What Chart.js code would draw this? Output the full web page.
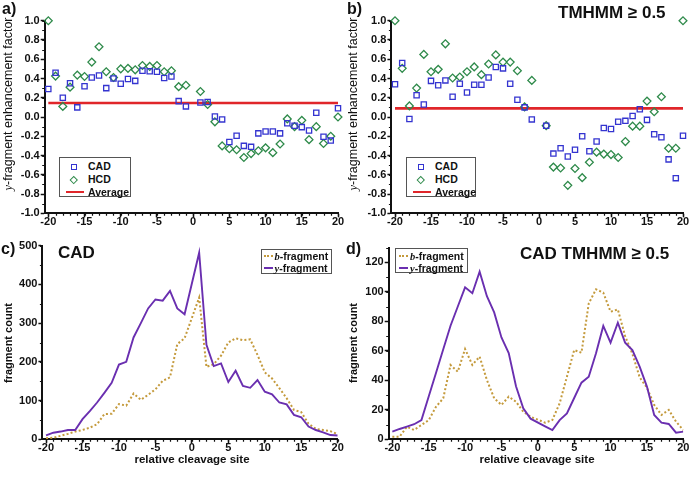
<!DOCTYPE html>
<html>
<head>
<meta charset="utf-8">
<script src="https://cdn.jsdelivr.net/npm/chart.js@4.4.1/dist/chart.umd.min.js"></script>
<style>
  body { margin: 0; background: #fff; width: 691px; height: 477px; position: relative; overflow: hidden;
         font-family: "Liberation Sans", Arial, sans-serif; color: #111; }
  .panel { position: absolute; }
  .panel canvas { display: block; }
  .lbl { position: absolute; font-weight: bold; line-height: 1; white-space: nowrap; }
  .ytitle { position: absolute; transform: translate(-50%, -50%) rotate(-90deg); white-space: nowrap; line-height: 1; }
  .xtitle { position: absolute; transform: translate(-50%, -50%); white-space: nowrap; font-weight: bold; font-size: 11.5px; line-height: 1; }
  .serif { font-family: "Liberation Serif", "DejaVu Serif", serif; font-style: italic; }
  .legend { position: absolute; border: 1px solid #555; background: #fff; box-sizing: border-box; }
  .legend .txt { position: absolute; font-weight: bold; font-size: 10.5px; line-height: 11px; white-space: nowrap; }
  .sym { position: absolute; box-sizing: border-box; }
</style>
</head>
<body>

<div class="panel" style="left:0;top:0"><canvas id="chartA" width="345" height="235"></canvas></div>
<div class="panel" style="left:345px;top:0"><canvas id="chartB" width="346" height="235"></canvas></div>
<div class="panel" style="left:0;top:235px"><canvas id="chartC" width="345" height="242"></canvas></div>
<div class="panel" style="left:345px;top:235px"><canvas id="chartD" width="346" height="242"></canvas></div>

<!-- panel letters and titles -->
<div class="lbl" style="left:2px;top:1px;font-size:16px">a)</div>
<div class="lbl" style="left:347px;top:1px;font-size:16px">b)</div>
<div class="lbl" style="left:1px;top:241px;font-size:16px">c)</div>
<div class="lbl" style="left:346px;top:241px;font-size:16px">d)</div>
<div class="lbl" style="left:558px;top:4px;font-size:17px">TMHMM ≥ 0.5</div>
<div class="lbl" style="left:58px;top:244px;font-size:17px">CAD</div>
<div class="lbl" style="left:520px;top:245px;font-size:17px">CAD TMHMM ≥ 0.5</div>

<!-- axis titles -->
<div class="ytitle" style="left:7.5px;top:103.5px;font-size:12.5px"><span class="serif">y</span>-fragment enhancement factor</div>
<div class="ytitle" style="left:352.5px;top:103.5px;font-size:12.5px"><span class="serif">y</span>-fragment enhancement factor</div>
<div class="ytitle" style="left:7.5px;top:343px;font-size:11px;font-weight:bold">fragment count</div>
<div class="ytitle" style="left:352.5px;top:342.5px;font-size:11px;font-weight:bold">fragment count</div>
<div class="xtitle" style="left:192px;top:460px">relative cleavage site</div>
<div class="xtitle" style="left:537px;top:460px">relative cleavage site</div>

<!-- legends a and b -->
<div class="legend" style="left:59px;top:157px;width:72px;height:40px">
  <span class="sym" style="left:10.5px;top:5.5px;width:6.5px;height:6.5px;border:1.3px solid #3434d0"></span>
  <span class="txt" style="left:28px;top:3px">CAD</span>
  <span class="sym" style="left:11px;top:18.6px;width:5.5px;height:5.5px;border:1.3px solid #2e8a4a;transform:rotate(45deg)"></span>
  <span class="txt" style="left:28px;top:15.8px">HCD</span>
  <span class="sym" style="left:6px;top:32.8px;width:18px;height:2.5px;background:#e0262a"></span>
  <span class="txt" style="left:28px;top:28.5px">Average</span>
</div>
<div class="legend" style="left:406px;top:157px;width:70px;height:40px">
  <span class="sym" style="left:10.5px;top:5.5px;width:6.5px;height:6.5px;border:1.3px solid #3434d0"></span>
  <span class="txt" style="left:28px;top:3px">CAD</span>
  <span class="sym" style="left:11px;top:18.6px;width:5.5px;height:5.5px;border:1.3px solid #2e8a4a;transform:rotate(45deg)"></span>
  <span class="txt" style="left:28px;top:15.8px">HCD</span>
  <span class="sym" style="left:6px;top:32.8px;width:18px;height:2.5px;background:#e0262a"></span>
  <span class="txt" style="left:28px;top:28.5px">Average</span>
</div>

<!-- legends c and d -->
<div class="legend" style="left:261px;top:249px;width:71px;height:25px">
  <span class="sym" style="left:2px;top:5px;width:9px;border-top:2px dotted #c49a3c"></span>
  <span class="txt" style="left:12.5px;top:0.5px"><span class="serif">b</span>-fragment</span>
  <span class="sym" style="left:2px;top:17.3px;width:9px;height:2px;background:#6a2fb0"></span>
  <span class="txt" style="left:12.5px;top:12.8px"><span class="serif">y</span>-fragment</span>
</div>
<div class="legend" style="left:395px;top:248px;width:73px;height:25px">
  <span class="sym" style="left:3px;top:6px;width:9px;border-top:2px dotted #c49a3c"></span>
  <span class="txt" style="left:14px;top:1.5px"><span class="serif">b</span>-fragment</span>
  <span class="sym" style="left:3px;top:18.3px;width:9px;height:2px;background:#6a2fb0"></span>
  <span class="txt" style="left:14px;top:13.8px"><span class="serif">y</span>-fragment</span>
</div>

<script>
// relative cleavage sites (no site 0)
const sites = [-20, -19, -18, -17, -16, -15, -14, -13, -12, -11, -10, -9, -8, -7, -6, -5, -4, -3, -2, -1,
               1, 2, 3, 4, 5, 6, 7, 8, 9, 10, 11, 12, 13, 14, 15, 16, 17, 18, 19, 20];

// a) all peptides
const cadA = [0.29, 0.46, 0.20, 0.35, 0.10, 0.32, 0.41, 0.43, 0.30, 0.40, 0.345, 0.395, 0.375, 0.48, 0.475, 0.47, 0.405, 0.42, 0.165, 0.11,
              0.15, 0.155, 0.005, -0.025, -0.26, -0.195, -0.30, -0.31, -0.17, -0.15, -0.15, -0.17, -0.065, -0.09, -0.105, -0.14, 0.045, -0.205, -0.245, 0.09];
const hcdA = [1.0, 0.425, 0.11, 0.31, 0.435, 0.42, 0.57, 0.73, 0.47, 0.41, 0.50, 0.505, 0.49, 0.535, 0.525, 0.535, 0.47, 0.48, 0.315, 0.33,
              0.265, 0.13, -0.05, -0.30, -0.33, -0.34, -0.42, -0.38, -0.35, -0.32, -0.37, -0.28, -0.02, -0.10, -0.035, -0.235, -0.10, -0.275, -0.20, 0.0];
const avgA = 0.145;

// b) TMHMM >= 0.5
const cadB = [0.34, 0.56, -0.02, 0.225, 0.13, 0.375, 0.33, 0.38, 0.21, 0.345, 0.255, 0.335, 0.335, 0.41, 0.52, 0.505, 0.345, 0.18, 0.10, -0.025,
              -0.09, -0.38, -0.325, -0.41, -0.34, -0.20, -0.355, -0.255, -0.115, -0.125, -0.05, -0.04, 0.01, 0.08, -0.03, -0.18, -0.21, -0.44, -0.635, -0.195];
const hcdB = [1.0, 0.505, 0.115, 0.30, 0.65, 0.47, 0.495, 0.76, 0.405, 0.415, 0.47, 0.52, 0.44, 0.55, 0.645, 0.57, 0.57, 0.48, 0.105, 0.38,
              -0.09, -0.52, -0.53, -0.71, -0.535, -0.63, -0.47, -0.365, -0.385, -0.39, -0.42, -0.255, -0.095, -0.095, 0.165, 0.055, 0.21, -0.325, -0.325, 1.0];
const avgB = 0.09;

// c) CAD fragment counts
const bFragC = [3, 4, 9, 14, 20, 24, 30, 39, 65, 66, 91, 87, 118, 102, 115, 129, 151, 160, 246, 261,
                366, 187, 194, 216, 250, 261, 256, 258, 218, 173, 157, 132, 106, 76, 70, 40, 27, 24, 21, 13];
const yFragC = [10, 17, 20, 24, 24, 52, 73, 95, 120, 146, 193, 200, 263, 300, 338, 361, 358, 383, 338, 323,
                482, 244, 189, 196, 148, 177, 138, 133, 153, 123, 116, 95, 90, 63, 57, 33, 24, 18, 11, 10];

// d) CAD TMHMM >= 0.5 fragment counts
const bFragD = [1.8, 1.8, 8.5, 6.3, 9.7, 13, 22, 27.8, 50.4, 45.8, 61.2, 50.4, 56, 40.2, 27.8, 23.3, 28.9, 25.5, 18.7, 15.3,
                11.3, 13.1, 24.4, 42.4, 60.5, 58.7, 92, 101.7, 99.4, 86.5, 88, 70, 58, 42, 35, 23.3, 16.5, 19.9, 12, 6.3];
const yFragD = [5.2, 7, 8.6, 10.2, 13, 29, 45, 61, 77, 90, 103, 99, 113.6, 97, 86, 69, 58.5, 36, 21, 14,
                8.8, 6.3, 13, 17.6, 28, 38.4, 42.4, 58.3, 76.8, 65.5, 79, 65.5, 60.5, 49.2, 35.7, 16.5, 11.3, 10.4, 4.5, 5.2];

// tick labels
const xTicks = [-20, -15, -10, -5, 0, 5, 10, 15, 20];
const yTicksAB = [-1.0, -0.8, -0.6, -0.4, -0.2, 0.0, 0.2, 0.4, 0.6, 0.8, 1.0];
const yTicksC = [0, 100, 200, 300, 400, 500];
const yTicksD = [0, 20, 40, 60, 80, 100, 120];

const BLUE = '#3434d0', GREEN = '#2e8a4a', RED = '#e0262a', PURPLE = '#6a2fb0', GOLD = '#c49a3c';

Chart.defaults.font.family = '"Liberation Sans", Arial, sans-serif';
Chart.defaults.font.weight = 'bold';
Chart.defaults.font.size = 11;
Chart.defaults.color = '#111';

const pts = vals => sites.map((s, i) => ({ x: s, y: vals[i] }));

// small tick marks between labelled ticks
const minorTicks = {
  id: 'minorTicks',
  afterDraw(chart, args, opts) {
    const { ctx } = chart;
    const xs = chart.scales.x, ys = chart.scales.y;
    ctx.save();
    ctx.strokeStyle = '#111';
    ctx.lineWidth = 1.2;
    ctx.beginPath();
    for (let v = opts.xMin; v <= opts.xMax + 1e-9; v += opts.xStep) {
      const px = Math.round(xs.getPixelForValue(v)) + 0.5;
      ctx.moveTo(px, ys.bottom); ctx.lineTo(px, ys.bottom + 2.5);
    }
    for (let v = opts.yMin; v <= opts.yMax + 1e-9; v += opts.yStep) {
      const py = Math.round(ys.getPixelForValue(v)) + 0.5;
      ctx.moveTo(xs.left, py); ctx.lineTo(xs.left - 2.5, py);
    }
    ctx.stroke();
    ctx.restore();
  }
};

function axes(geo, yTicks, yMin, yMax, yFmt) {
  const tickGrid = { display: true, drawOnChartArea: false, drawTicks: true, tickLength: 4, tickColor: '#111', tickWidth: 1.5 };
  return {
    x: {
      type: 'linear', min: geo.xMin, max: 20,
      border: { display: true, color: '#111', width: 2 },
      grid: tickGrid,
      ticks: { padding: -2, maxRotation: 0, autoSkip: false },
      afterBuildTicks: s => { s.ticks = xTicks.map(v => ({ value: v })); },
      afterFit: s => { s.height = geo.xH; }
    },
    y: {
      type: 'linear', min: yMin, max: yMax,
      border: { display: true, color: '#111', width: 2 },
      grid: tickGrid,
      ticks: { padding: 1, autoSkip: false, callback: yFmt },
      afterBuildTicks: s => { s.ticks = yTicks.map(v => ({ value: v })); },
      afterFit: s => { s.width = geo.yW; }
    }
  };
}

function scatterPanel(id, geo, cad, hcd, avg) {
  new Chart(document.getElementById(id), {
    type: 'scatter',
    data: {
      datasets: [
        { label: 'CAD', data: pts(cad), pointStyle: 'rect', pointRadius: 3.7, pointBorderWidth: 1.3,
          pointBorderColor: BLUE, pointBackgroundColor: 'rgba(255,255,255,0)', order: 1, clip: false },
        { label: 'HCD', data: pts(hcd), pointStyle: 'rectRot', pointRadius: 3.9, pointBorderWidth: 1.3,
          pointBorderColor: GREEN, pointBackgroundColor: 'rgba(255,255,255,0)', order: 2, clip: false },
        { label: 'Average', type: 'line', data: [{ x: -20, y: avg }, { x: 20, y: avg }], borderColor: RED,
          borderWidth: 2.6, pointRadius: 0, order: 3, clip: false }
      ]
    },
    options: {
      responsive: false, animation: false, devicePixelRatio: 1,
      layout: { padding: { left: 0, right: geo.padR, top: geo.padT, bottom: 0 } },
      plugins: { legend: { display: false }, tooltip: { enabled: false },
                 minorTicks: { xMin: -20, xMax: 20, xStep: 1, yMin: -1, yMax: 1, yStep: 0.1 } },
      scales: axes(geo, yTicksAB, -1, 1, v => v.toFixed(1))
    },
    plugins: [minorTicks]
  });
}

function linePanel(id, geo, bFrag, yFrag, yTicks, yMax, yStep) {
  new Chart(document.getElementById(id), {
    type: 'line',
    data: {
      datasets: [
        { label: 'b-fragment', data: pts(bFrag), borderColor: GOLD, borderWidth: 2, borderDash: [2, 2.2],
          pointRadius: 0, tension: 0, order: 2 },
        { label: 'y-fragment', data: pts(yFrag), borderColor: PURPLE, borderWidth: 1.9,
          pointRadius: 0, tension: 0, order: 1 }
      ]
    },
    options: {
      responsive: false, animation: false, devicePixelRatio: 1,
      layout: { padding: { left: 0, right: geo.padR, top: geo.padT, bottom: 0 } },
      plugins: { legend: { display: false }, tooltip: { enabled: false },
                 minorTicks: { xMin: -20, xMax: 20, xStep: 1, yMin: 0, yMax: yMax, yStep: yStep } },
      scales: axes(geo, yTicks, 0, yMax, v => String(v))
    },
    plugins: [minorTicks]
  });
}

scatterPanel('chartA', { xMin: -20.5, yW: 44.7, padR: 7, padT: 20.7, xH: 21.7 }, cadA, hcdA, avgA);
scatterPanel('chartB', { xMin: -20.5, yW: 46.4, padR: 8, padT: 20.7, xH: 21.7 }, cadB, hcdB, avgB);
linePanel('chartC', { xMin: -20.5, yW: 42.4, padR: 7.3, padT: 10.7, xH: 37.7 }, bFragC, yFragC, yTicksC, 500, 50);
linePanel('chartD', { xMin: -20.5, yW: 43.7, padR: 7.7, padT: 12.5, xH: 37.7 }, bFragD, yFragD, yTicksD, 130, 10);
</script>
</body>
</html>
